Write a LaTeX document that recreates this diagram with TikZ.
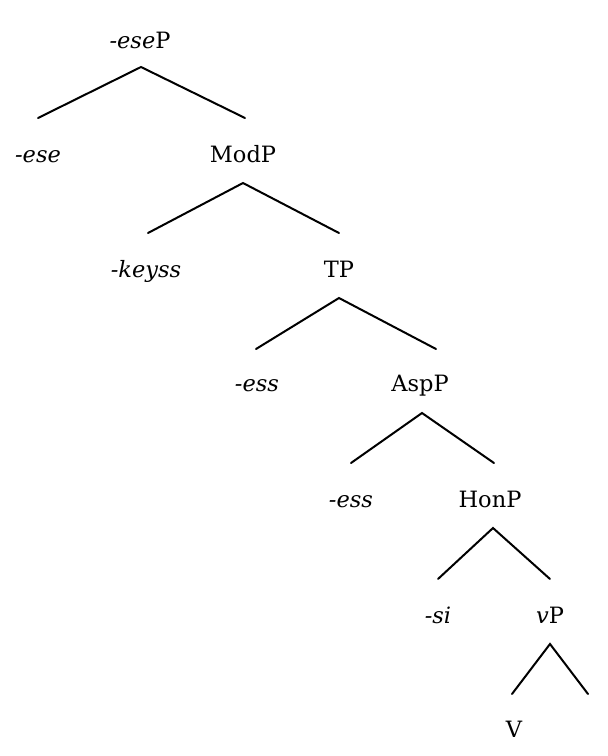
\documentclass[tikz,border=0pt]{standalone}
\usepackage{fontspec}
\setmainfont{DejaVu Serif}
\begin{document}
\begin{tikzpicture}[x=1pt,y=-1pt,
  lbl/.style={anchor=base,inner sep=0pt,font=\fontsize{22.5}{26}\selectfont},
  br/.style={line width=2pt,line cap=round}]
\useasboundingbox (0,0) rectangle (608,756);
% labels
\node[lbl] (eseP) at (140,48) {\textit{-ese}P};
\node[lbl] (ese) at (38,162) {\textit{-ese}};
\node[lbl] (ModP) at (243,162) {ModP};
\node[lbl] (keyss) at (146,277) {\textit{-keyss}};
\node[lbl] (TP) at (339,277) {TP};
\node[lbl] (ess1) at (257,391) {\textit{-ess}};
\node[lbl] (AspP) at (420,391) {AspP};
\node[lbl] (ess2) at (351,507) {\textit{-ess}};
\node[lbl] (HonP) at (490,507) {HonP};
\node[lbl] (si) at (438,623) {\textit{-si}};
\node[lbl] (vP) at (550,623) {\textit{v}P};
\node[lbl] (V) at (514,737) {V};
% branch points
\coordinate (a1) at (141,67);  \coordinate (l1) at (38,118);  \coordinate (r1) at (245,118);
\coordinate (a2) at (243,183); \coordinate (l2) at (148,233); \coordinate (r2) at (339,233);
\coordinate (a3) at (339,298); \coordinate (l3) at (256,349); \coordinate (r3) at (436,349);
\coordinate (a4) at (422,413); \coordinate (l4) at (351,463); \coordinate (r4) at (494,463);
\coordinate (a5) at (493,528); \coordinate (l5) at (438,579); \coordinate (r5) at (550,579);
\coordinate (a6) at (550,644); \coordinate (l6) at (512,694); \coordinate (r6) at (588,694);
\foreach \i in {1,...,6} {\draw[br] (l\i) -- (a\i) -- (r\i);}
\end{tikzpicture}
\end{document}
